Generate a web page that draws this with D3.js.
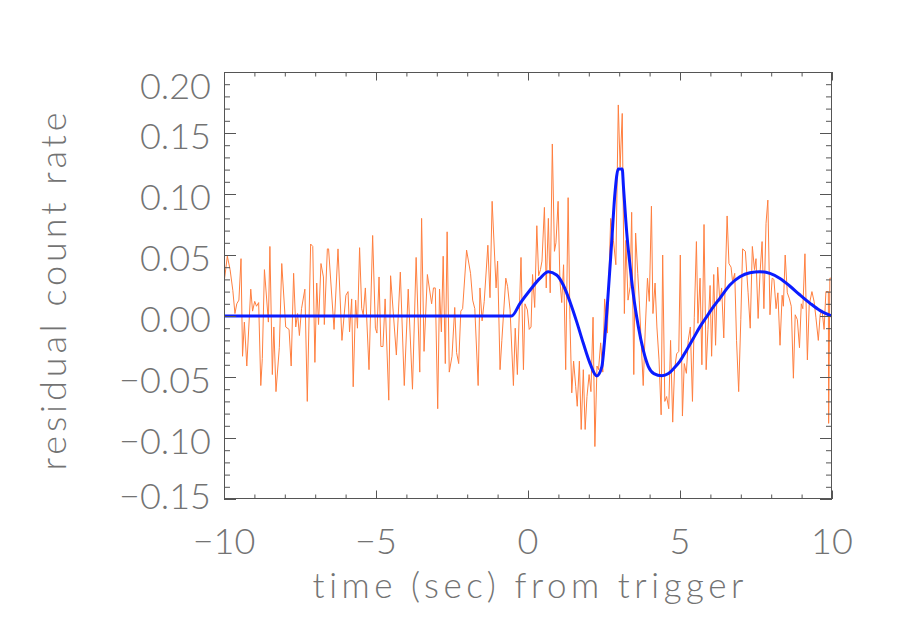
<!DOCTYPE html>
<html><head><meta charset="utf-8">
<script src="https://cdn.jsdelivr.net/npm/d3@7"></script>
<style>
html,body{margin:0;padding:0;background:#fff;}
text{font-family:Lato,"Open Sans","DejaVu Sans",sans-serif;font-weight:300;fill:#737373;}
</style>
</head><body>
<svg id="chart" width="900" height="643"></svg>
<script>
// ---- data ----
const obsTime = [
-10.00,-9.89,-9.80,-9.71,-9.64,-9.58,-9.51,-9.44,-9.39,-9.33,-9.25,-9.12,-9.06,-8.99,-8.93,-8.86,-8.79,-8.74,-8.67,-8.54,-8.49,-8.41,-8.36,-8.29,-8.18,-8.10,-7.97,-7.86,-7.79,-7.71,-7.64,-7.58,-7.52,-7.45,-7.34,-7.26,-7.15,-7.08,-7.01,-6.95,-6.89,-6.81,-6.73,
-6.70,-6.60,-6.56,-6.38,-6.25,-6.12,-5.99,-5.92,-5.87,-5.80,-5.75,-5.67,-5.61,-5.54,-5.47,-5.42,-5.35,-5.23,-5.11,-5.02,-4.97,-4.90,-4.84,-4.77,-4.70,-4.58,-4.52,-4.33,-4.20,-4.07,-3.94,-3.80,-3.68,-3.56,-3.50,-3.42,
-3.31,-3.17,-3.11,-3.05,-2.97,-2.91,-2.85,-2.79,-2.72,-2.66,-2.59,-2.50,-2.41,-2.35,-2.28,-2.21,-2.15,-2.02,-1.89,-1.82,-1.75,-1.64,-1.58,-1.51,-1.44,-1.32,-1.25,-1.18,-1.05,-1.00,-0.92,-0.86,-0.73,-0.67,-0.59,-0.48,-0.42,-0.35,-0.23,-0.15,
-0.10,-0.02,0.04,0.10,0.15,0.22,0.29,0.35,0.41,0.46,0.54,0.60,0.67,0.73,0.80,0.87,0.92,0.99,1.05,1.11,1.17,1.24,1.32,1.38,1.44,1.50,1.57,1.62,1.69,1.75,1.82,1.88,1.94,2.01,2.07,2.14,2.20,2.27,2.32,2.39,2.46,2.52,2.61,2.72,2.81,2.89,2.97,3.03,3.10,3.17,
3.22,3.29,3.36,3.41,3.48,3.54,3.61,3.66,3.73,3.79,3.86,3.93,3.99,4.06,4.11,4.18,4.24,4.31,4.38,4.43,4.50,4.56,4.63,4.69,4.76,4.82,4.89,4.96,5.01,5.08,5.14,5.21,5.27,5.34,5.41,5.47,5.54,5.59,5.66,5.72,5.79,5.86,5.92,5.99,6.04,6.11,6.17,6.24,6.31,6.37,6.44,
6.48,6.55,6.61,6.68,6.73,6.80,6.86,6.93,7.00,7.06,7.15,7.24,7.31,7.38,7.45,7.50,7.57,7.63,7.70,7.76,7.83,7.89,7.96,8.03,8.09,8.16,8.22,8.29,8.36,8.40,8.46,8.53,8.60,8.66,8.73,8.79,8.86,8.93,8.99,9.04,9.11,9.19,9.25,9.34,9.41,9.47,9.55,9.61,9.67,9.74,9.80,9.88,9.89,9.93,10.00];
const obsRate = [
0.027,0.049,0.038,0.021,0.002,0.010,0.013,0.047,-0.033,-0.005,-0.041,0.022,0.004,0.012,0.008,0.011,-0.057,-0.035,0.038,-0.005,0.057,-0.048,-0.009,-0.062,-0.026,0.043,-0.009,-0.011,-0.041,0.035,-0.009,0.002,-0.016,0.006,0.022,-0.070,0.059,0.057,-0.038,0.027,-0.007,0.043,0.032,
-0.007,0.055,0.055,-0.011,0.055,-0.020,0.017,0.020,-0.013,0.014,-0.058,0.013,-0.010,0.056,0.006,0.001,0.023,-0.044,0.066,-0.010,-0.014,0.032,-0.025,-0.025,0.014,-0.069,0.033,-0.032,0.036,-0.057,0.022,-0.060,0.048,-0.046,0.080,-0.029,
0.034,0.010,0.023,0.023,-0.076,0.022,-0.013,0.049,-0.039,0.069,-0.046,-0.033,0.007,-0.030,-0.039,0.004,0.006,0.054,0.035,0.013,0.006,-0.057,0.023,-0.004,0.012,0.058,0.015,0.094,0.023,0.045,-0.044,-0.020,0.031,0.024,0.005,-0.057,-0.010,-0.048,0.048,-0.044,
0.010,0.005,-0.011,-0.009,0.034,0.007,0.074,0.033,0.038,0.045,0.089,0.023,0.080,0.019,0.141,0.053,0.060,0.094,0.029,0.011,0.042,-0.044,0.097,-0.003,-0.063,-0.037,-0.058,-0.074,-0.037,-0.093,-0.044,-0.093,-0.066,-0.048,-0.062,-0.001,-0.107,-0.041,-0.044,-0.022,-0.046,0.014,-0.014,0.080,0.062,0.042,0.173,0.122,0.166,0.002,
0.062,0.013,0.024,0.085,-0.048,0.068,0.035,0.013,-0.025,-0.057,-0.009,0.031,0.012,0.090,0.002,0.027,-0.009,-0.036,-0.081,0.050,-0.070,-0.066,-0.076,-0.020,-0.087,-0.044,-0.031,-0.029,0.050,-0.082,-0.039,-0.047,-0.020,-0.009,-0.070,-0.001,0.061,-0.006,0.031,-0.040,0.075,-0.044,-0.011,0.025,-0.033,0.034,-0.024,0.040,0.012,0.023,-0.018,
0.021,0.082,0.043,0.040,0.028,0.035,-0.020,-0.062,-0.003,0.055,0.053,0.019,-0.010,0.057,0.038,0.047,-0.002,0.034,0.061,0.006,0.076,0.095,0.001,0.031,0.030,0.006,0.019,-0.024,0.017,0.008,0.050,0.019,0.014,0.008,-0.051,0.001,-0.003,-0.026,0.010,0.006,0.051,-0.036,0.009,0.020,0.012,-0.001,-0.020,0.001,0.005,-0.011,0.020,0.020,-0.088,0.031,0.031];

const modelTime = [-10,-1.0,-0.54,-0.26,0.07,0.39,0.67,0.94,1.16,1.38,1.60,1.82,2.04,2.26,2.43,2.52,2.63,2.75,2.86,2.97,3.10,3.14,3.25,3.36,3.46,3.63,3.79,3.96,4.14,4.40,4.62,4.80,5.00,5.22,5.44,5.66,5.88,6.10,6.31,6.64,6.97,7.30,7.63,7.96,8.29,8.61,8.95,9.28,9.61,10.0];
const modelRate = [0,0,0,0.0104,0.0213,0.0308,0.0363,0.0336,0.0254,0.0117,-0.0046,-0.0224,-0.0388,-0.0491,-0.0415,-0.0197,0.0158,0.0595,0.1005,0.1205,0.1205,0.106,0.0677,0.0404,0.0186,-0.0087,-0.0278,-0.0415,-0.0472,-0.0490,-0.0472,-0.0429,-0.0370,-0.0278,-0.0183,-0.0087,-0.0005,0.0076,0.0145,0.0254,0.0322,0.0355,0.0363,0.0349,0.0308,0.0246,0.0172,0.0104,0.0044,0];

const xTickValues = [-10,-5,0,5,10];
const xTickLabels = ["\u221210","\u22125","0","5","10"];
const yTickValues = [-0.15,-0.10,-0.05,0,0.05,0.10,0.15,0.20];
const yTickLabels = ["\u22120.15","\u22120.10","\u22120.05","0.00","0.05","0.10","0.15","0.20"];
const xTitle = "time (sec) from trigger";
const yTitle = "residual count rate";

// ---- layout ----
const L=224,R=832,T=72,B=499;
const svg = d3.select("#chart");
const x = d3.scaleLinear().domain([-10,10]).range([L,R]);
const y = d3.scaleLinear().domain([-0.15,0.20]).range([B,T]);
const axisColor = "#555";

svg.append("clipPath").attr("id","clip").append("rect")
  .attr("x",L).attr("y",T).attr("width",R-L).attr("height",B-T);

// data lines
const obs = obsTime.map((t,i)=>[t,obsRate[i]]);
const mod = modelTime.map((t,i)=>[t,modelRate[i]]);
const g = svg.append("g").attr("clip-path","url(#clip)");
g.append("path").datum(obs)
  .attr("d", d3.line().x(d=>x(d[0])).y(d=>y(d[1])))
  .attr("fill","none").attr("stroke","#ff7f3f").attr("stroke-width",1);
g.append("path").datum(mod)
  .attr("d", d3.line().curve(d3.curveMonotoneX).x(d=>x(d[0])).y(d=>y(d[1])))
  .attr("fill","none").attr("stroke","#0a1cff").attr("stroke-width",3).attr("stroke-linejoin","round");

// ticks via d3 axes (inward)
function styleAxis(sel){
  sel.select(".domain").remove();
  sel.selectAll(".tick line").attr("stroke",axisColor).attr("stroke-width",1);
  sel.selectAll(".tick text").remove();
}
const xMinor = d3.range(-10,10.001,1);
const yMinor = d3.range(-15,20.5,1).map(i=>i/100);
const xMajLen = 8.5, xMinLen = 4.5, yMajLen = 12, yMinLen = 6;

svg.append("g").attr("transform",`translate(0,${B})`)
  .call(d3.axisBottom(x).tickValues(xMinor).tickSize(-xMinLen).tickFormat("")).call(styleAxis);
svg.append("g").attr("transform",`translate(0,${B})`)
  .call(d3.axisBottom(x).tickValues(xTickValues).tickSize(-xMajLen).tickFormat("")).call(styleAxis);
svg.append("g").attr("transform",`translate(0,${T})`)
  .call(d3.axisTop(x).tickValues(xMinor).tickSize(-xMinLen).tickFormat("")).call(styleAxis);
svg.append("g").attr("transform",`translate(0,${T})`)
  .call(d3.axisTop(x).tickValues(xTickValues).tickSize(-xMajLen).tickFormat("")).call(styleAxis);
svg.append("g").attr("transform",`translate(${L},0)`)
  .call(d3.axisLeft(y).tickValues(yMinor).tickSize(-yMinLen).tickFormat("")).call(styleAxis);
svg.append("g").attr("transform",`translate(${L},0)`)
  .call(d3.axisLeft(y).tickValues(yTickValues).tickSize(-yMajLen).tickFormat("")).call(styleAxis);
svg.append("g").attr("transform",`translate(${R},0)`)
  .call(d3.axisRight(y).tickValues(yMinor).tickSize(-yMinLen).tickFormat("")).call(styleAxis);
svg.append("g").attr("transform",`translate(${R},0)`)
  .call(d3.axisRight(y).tickValues(yTickValues).tickSize(-yMajLen).tickFormat("")).call(styleAxis);

// frame
svg.append("rect").attr("x",L+0.5).attr("y",T+0.5).attr("width",R-L-1).attr("height",B-T-1)
  .attr("fill","none").attr("stroke",axisColor).attr("stroke-width",1);

// helper: letter spacing so that text at a given size spans a given width
function spacingFor(str, size, width){
  const t = svg.append("text").attr("font-size",size).text(str);
  const w = t.node().getComputedTextLength();
  t.remove();
  return (width - w)/(str.length);
}

// y tick labels
const yFs = 36;
svg.append("g").selectAll("text").data(yTickValues).join("text")
  .attr("x",211)
  .attr("y",d=>Math.min(Math.max(y(d)+1.5, T+12.5), B-4.5))
  .attr("dominant-baseline","central")
  .attr("text-anchor","end")
  .attr("font-size",yFs)
  .text((d,i)=>yTickLabels[i]);

// x tick labels
const xFs = 36;
svg.append("g").selectAll("text").data(xTickValues).join("text")
  .attr("x",d=>x(d))
  .attr("y",554)
  .attr("text-anchor","middle")
  .attr("font-size",xFs)
  .text((d,i)=>xTickLabels[i]);

// titles
const xtFs = 35;
const xtLs = spacingFor(xTitle, xtFs, 436);
svg.append("text").attr("x",528 + xtLs/2).attr("y",598).attr("text-anchor","middle")
  .attr("font-size",xtFs).attr("letter-spacing",xtLs).text(xTitle);
const ytFs = 36;
const ytLs = spacingFor(yTitle, ytFs, 362);
svg.append("text").attr("transform",`translate(66,${287.5 + ytLs/2}) rotate(-90)`).attr("text-anchor","middle")
  .attr("font-size",ytFs).attr("letter-spacing",ytLs).text(yTitle);
</script>
</body></html>
